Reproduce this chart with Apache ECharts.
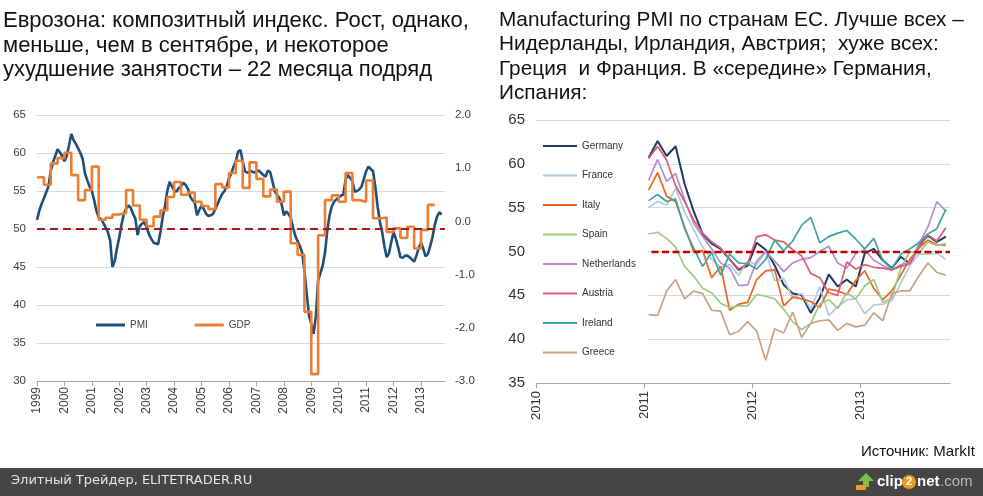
<!DOCTYPE html>
<html><head><meta charset="utf-8">
<script src="https://cdn.jsdelivr.net/npm/echarts@6/dist/echarts.min.js"></script>
<style>html,body{margin:0;padding:0;background:#fff;}#c{width:983px;height:496px;}</style>
</head><body><div id="c"></div>
<script>
// ---------- Left panel: Eurozone composite PMI (monthly, from Jan 1999) ----------
const pmiStartYear = 1999;
const pmi = [
  51.2, 52.4, 53.3, 54.0, 54.8, 55.6, 57.6, 58.8, 59.6, 60.5, 60.1, 59.6,
  58.9, 59.6, 61.0, 62.5, 61.7, 61.2, 60.6, 60.0, 59.2, 57.3, 56.4, 55.6,
  55.0, 53.8, 52.4, 51.5, 51.3, 50.8, 50.2, 49.6, 48.5, 45.0, 45.8, 47.5,
  48.9, 50.6, 52.0, 52.7, 53.1, 52.8, 52.0, 51.4, 49.2, 50.4, 50.7, 50.9,
  50.2, 49.3, 48.7, 48.2, 48.1, 48.0, 49.6, 51.6, 53.0, 55.0, 56.2, 55.6,
  55.1, 54.9, 55.4, 55.6, 56.1, 55.8, 55.3, 54.3, 53.8, 53.5, 51.8, 52.5,
  53.1, 52.6, 52.0, 51.7, 51.8, 52.0, 52.6, 53.3, 54.0, 54.6, 55.0, 55.6,
  56.7, 57.3, 58.2, 58.9, 60.2, 60.4, 58.9, 57.6, 57.4, 57.5, 57.6, 57.4,
  57.6, 57.7, 57.4, 57.1, 56.9, 57.7, 57.5, 56.3, 55.0, 54.5, 54.1, 53.3,
  51.8, 52.3, 52.0, 51.5, 50.2, 49.1, 48.4, 47.8, 46.9, 44.5, 41.5, 38.6,
  37.5, 36.2, 38.5, 43.2, 44.2, 45.2, 46.9, 49.8, 51.8, 53.0, 53.6, 53.9,
  54.1, 54.4, 54.5, 56.5, 57.1, 56.7, 56.3, 54.9, 55.0, 55.2, 55.6, 56.6,
  57.6, 58.2, 57.9, 57.6, 55.6, 53.0, 51.0, 49.6, 47.7, 46.3, 46.8, 48.3,
  49.6, 48.7, 47.6, 46.3, 46.2, 46.5, 46.5, 46.3, 46.0, 45.7, 46.5, 47.5,
  48.2, 47.4, 46.4, 46.7, 47.7, 48.9, 50.5, 51.6, 52.2, 51.9
];
// Eurozone GDP, % q/q (quarterly, from Q1 1999)
const gdp = [
  0.83, 0.69, 1.09, 1.19,
  1.29, 0.87, 0.40, 0.59,
  1.03, 0.03, 0.07, 0.13,
  0.16, 0.59, 0.30, 0.03,
  -0.09, 0.09, 0.21, 0.46,
  0.74, 0.50, 0.54, 0.37,
  0.29, 0.23, 0.70, 0.64,
  0.91, 1.14, 0.63, 1.11,
  0.80, 0.47, 0.60, 0.37,
  0.56, -0.41, -0.63, -1.70,
  -2.87, -0.26, 0.40, 0.49,
  0.37, 0.91, 0.40, 0.37,
  0.77, 0.06, 0.07, -0.20,
  -0.13, -0.31, -0.10, -0.51,
  -0.16, 0.31
];
const leftYears = [1999,2000,2001,2002,2003,2004,2005,2006,2007,2008,2009,2010,2011,2012,2013];

// ---------- Right panel: Manufacturing PMI by country (monthly, Jan 2011 - Oct 2013) ----------
const countryStartYear = 2011;
const countries = ['Germany','France','Italy','Spain','Netherlands','Austria','Ireland','Greece'];
const germany = [60.7,62.6,60.9,62.0,57.7,54.6,52.0,50.9,50.3,49.1,47.9,48.4, 51.0,50.2,48.4,46.2,45.2,45.0,43.0,44.7,47.4,46.0,46.8,46.0, 49.8,50.3,49.0,48.1,49.4,48.6,50.7,51.8,51.1,51.7];
const france = [55.0,55.7,55.3,57.2,54.5,52.5,50.5,49.1,48.2,48.5,47.3,48.9, 48.5,50.0,46.7,46.9,44.7,45.2,43.4,46.0,42.7,43.7,44.5,44.6, 42.9,43.9,44.0,44.4,46.4,48.4,49.7,49.7,49.8,49.1];
const italy = [57.0,59.0,56.3,55.7,52.8,50.0,50.1,47.0,48.3,43.3,44.0,44.2, 46.8,47.8,47.9,43.8,44.8,44.6,44.3,43.6,45.7,45.5,45.1,46.7, 47.8,45.8,44.5,45.5,47.3,49.1,50.4,51.3,50.8,50.7];
const spain = [52.0,52.2,51.5,50.5,48.3,47.2,45.8,45.3,44.1,43.6,43.8,43.8, 45.1,44.9,44.6,43.4,42.0,41.1,41.8,44.0,44.5,43.5,45.3,44.6, 46.1,46.8,44.2,44.7,48.1,50.0,49.8,51.1,50.7,50.9];
const netherlands = [58.1,60.5,58.0,58.9,55.9,53.2,51.7,50.3,48.7,48.1,46.1,46.2, 48.9,50.0,48.9,47.7,48.7,49.1,49.3,50.0,50.6,48.7,48.1,49.8, 50.2,49.0,48.4,47.9,48.5,48.7,50.8,52.8,55.7,54.6];
const austria = [60.6,62.0,60.4,57.5,55.7,53.6,52.1,51.1,50.4,49.1,48.0,48.6, 51.7,51.9,51.3,51.1,50.2,49.5,47.5,47.0,45.3,45.0,48.8,48.0, 48.5,48.2,48.1,47.9,48.3,48.6,50.4,51.9,51.2,52.7];
const ireland = [55.8,56.5,55.7,56.0,52.6,50.4,48.3,49.9,47.3,49.7,48.7,48.6, 48.0,49.1,51.3,50.1,51.2,53.0,53.9,51.0,51.7,52.1,52.4,51.4, 50.3,51.5,49.0,48.0,49.7,50.3,51.0,52.0,52.6,54.8];
const greece = [42.8,42.7,45.5,46.8,44.6,45.5,45.2,43.3,43.2,40.5,40.9,42.0, 40.9,37.6,41.2,40.7,43.1,40.2,41.8,42.1,42.2,41.0,41.8,41.4, 41.6,43.0,42.1,45.2,45.5,45.5,47.2,48.7,47.6,47.3];
const rightYears = [2010,2011,2012,2013];

const countryValues = [germany, france, italy, spain, netherlands, austria, ireland, greece];
const countryColors = ['#1F3B63','#B5C8DD','#E8671C','#9CCB86','#B48ED6','#D95F74','#3FA5A0','#C8A283'];

// ---------- build series data ----------
const pmiData = pmi.map((v, i) => [pmiStartYear + i / 12, v]);
const gdpData = gdp.map((v, i) => [pmiStartYear + i / 4, v]);
gdpData.push([pmiStartYear + gdp.length / 4, gdp[gdp.length - 1]]);

const FONT = "'Liberation Sans', Arial, sans-serif";
const NARROW = "'Liberation Sans Narrow', 'Liberation Sans', Arial, sans-serif";

const countrySeries = countries.map((name, idx) => ({
  name: name,
  type: 'line',
  xAxisIndex: 1, yAxisIndex: 2,
  data: countryValues[idx].map((v, i) => [countryStartYear + (i + 0.5) / 12, v]),
  symbol: 'none',
  z: 3,
  lineStyle: { color: countryColors[idx], width: name === 'Germany' ? 2 : 1.7 },
  itemStyle: { color: countryColors[idx] },
  markLine: name === 'Germany' ? {
    silent: true, symbol: 'none', label: { show: false },
    lineStyle: { color: '#C00000', type: [7, 3.5], width: 2.3 },
    data: [{ yAxis: 50 }]
  } : undefined
}));

const chart = echarts.init(document.getElementById('c'), null, { renderer: 'canvas' });
chart.setOption({
  animation: false,
  backgroundColor: '#ffffff',
  title: [
    { text: 'Еврозона: композитный индекс. Рост, однако,\nменьше, чем в сентябре, и некоторое\nухудшение занятости – 22 месяца подряд',
      left: 3, top: 9, padding: 0,
      textStyle: { fontFamily: FONT, fontSize: 22, fontWeight: 'normal', color: '#111', lineHeight: 24.5 } },
    { text: 'Manufacturing PMI по странам ЕС. Лучше всех –\nНидерланды, Ирландия, Австрия;  хуже всех:\nГреция  и Франция. В «середине» Германия,\nИспания:',
      left: 499, top: 8, padding: 0,
      textStyle: { fontFamily: FONT, fontSize: 20.8, fontWeight: 'normal', color: '#111', lineHeight: 24.5 } },
    { text: 'Источник: MarkIt', right: 8, top: 444, padding: 0,
      textStyle: { fontFamily: FONT, fontSize: 15, fontWeight: 'normal', color: '#111' } }
  ],
  legend: [
    { data: ['PMI', 'GDP'], left: 96, top: 320, padding: 0, icon: 'rect', zlevel: 2, z: 20,
      itemWidth: 29, itemHeight: 3, itemGap: 47,
      textStyle: { fontFamily: NARROW, fontSize: 10, color: '#404040' } },
    { data: countries, orient: 'vertical', left: 543, top: 140, padding: 0, zlevel: 2, z: 20,
      icon: 'rect', itemWidth: 34, itemHeight: 2, itemGap: 17.5,
      textStyle: { fontFamily: FONT, fontSize: 10, color: '#333', lineHeight: 12 } }
  ],
  grid: [
    { left: 37, top: 115, width: 408, height: 266 },
    { left: 536, top: 120, width: 414, height: 263 }
  ],
  xAxis: [
    { type: 'value', gridIndex: 0, min: 1999, max: 2013.875, interval: 1,
      axisLine: { show: true, onZero: false, lineStyle: { color: '#A6A6A6', width: 1 } },
      axisTick: { show: true, length: 5, lineStyle: { color: '#A6A6A6' }, customValues: leftYears },
      axisLabel: { rotate: 90, margin: 6, fontFamily: NARROW, fontSize: 12, color: '#404040',
        customValues: leftYears, formatter: v => String(Math.round(v)) },
      splitLine: { show: false } },
    { type: 'value', gridIndex: 1, min: 2010, max: 2013.83, interval: 1,
      axisLine: { show: true, onZero: false, lineStyle: { color: '#A6A6A6', width: 1 } },
      axisTick: { show: true, length: 5, lineStyle: { color: '#A6A6A6' }, customValues: rightYears },
      axisLabel: { rotate: 90, margin: 8, fontFamily: FONT, fontSize: 13, color: '#333',
        customValues: rightYears, formatter: v => String(Math.round(v)) },
      splitLine: { show: false } }
  ],
  yAxis: [
    { type: 'value', gridIndex: 0, min: 30, max: 65, interval: 5,
      axisLine: { show: false }, axisTick: { show: false },
      axisLabel: { margin: 11, fontFamily: NARROW, fontSize: 11.5, color: '#404040' },
      splitLine: { show: true, lineStyle: { color: '#D9D9D9', width: 1 } } },
    { type: 'value', gridIndex: 0, position: 'right', min: -3, max: 2, interval: 1,
      axisLine: { show: false }, axisTick: { show: false },
      axisLabel: { margin: 10, fontFamily: NARROW, fontSize: 11.5, color: '#404040', formatter: v => v.toFixed(1) },
      splitLine: { show: false } },
    { type: 'value', gridIndex: 1, min: 35, max: 65, interval: 5,
      axisLine: { show: false }, axisTick: { show: false },
      axisLabel: { margin: 11, fontFamily: FONT, fontSize: 15, color: '#333' },
      splitLine: { show: true, lineStyle: { color: '#D9D9D9', width: 1 } } }
  ],
  series: [
    { name: 'PMI', type: 'line', xAxisIndex: 0, yAxisIndex: 0, data: pmiData, symbol: 'none', z: 3,
      lineStyle: { color: '#1F4E79', width: 2.6 }, itemStyle: { color: '#1F4E79' },
      markLine: { silent: true, symbol: 'none', label: { show: false },
        lineStyle: { color: '#A01C1C', type: [8, 5], width: 2 }, data: [{ yAxis: 50 }] } },
    { name: 'GDP', type: 'line', xAxisIndex: 0, yAxisIndex: 1, data: gdpData, step: 'end', symbol: 'none', z: 4,
      lineStyle: { color: '#EE7D31', width: 2.6 }, itemStyle: { color: '#EE7D31' } },
    ...countrySeries
  ],
  graphic: {
    zlevel: 1,
    elements: [
      // white legend box of the right panel (covers grid lines behind the legend)
      { type: 'rect', zlevel: 1, shape: { x: 534, y: 125, width: 114, height: 245 }, style: { fill: '#ffffff' } },
      { type: 'rect', zlevel: 1, shape: { x: 0, y: 468, width: 983, height: 28 }, style: { fill: '#454545' } },
      { type: 'text', zlevel: 1, x: 11, y: 474,
        style: { text: 'Элитный Трейдер, ELITETRADER.RU', fill: '#E6E6E6', font: "13px 'DejaVu Sans', sans-serif" } },
      { type: 'polygon', zlevel: 1, shape: { points: [[866, 473], [874, 481], [869, 481], [869, 487], [863, 487], [863, 481], [858, 481]] },
        style: { fill: '#7DC142' } },
      { type: 'rect', zlevel: 1, shape: { x: 856, y: 485, width: 10, height: 5 }, style: { fill: '#F39A1E' } },
      { type: 'text', zlevel: 1, x: 877, y: 474,
        style: { text: 'clip', fill: '#ffffff', font: "bold 15px 'Liberation Sans', Arial, sans-serif" } },
      { type: 'circle', zlevel: 1, shape: { cx: 909, cy: 482, r: 7 }, style: { fill: '#F39A1E' } },
      { type: 'text', zlevel: 1, x: 909, y: 482,
        style: { text: '2', fill: '#ffffff', font: "bold 11px 'Liberation Sans', Arial, sans-serif", align: 'center', verticalAlign: 'middle' } },
      { type: 'text', zlevel: 1, x: 917, y: 474,
        style: { text: 'net', fill: '#ffffff', font: "bold 15px 'Liberation Sans', Arial, sans-serif" } },
      { type: 'text', zlevel: 1, x: 940, y: 474,
        style: { text: '.com', fill: '#BDBDBD', font: "15px 'Liberation Sans', Arial, sans-serif" } }
    ]
  }
});
</script>
</body></html>
